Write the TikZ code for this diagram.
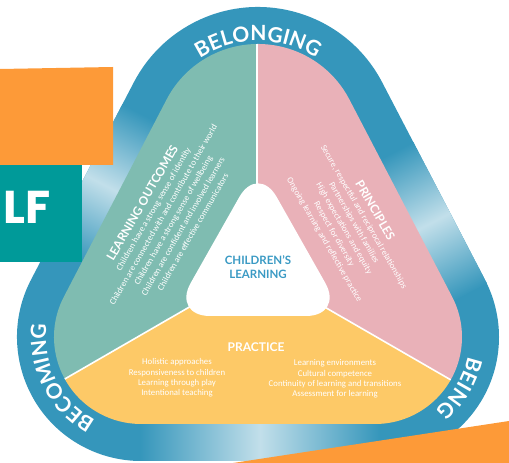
\documentclass[tikz,border=0pt]{standalone}
\usepackage{fontspec}
\setmainfont{Carlito}
\newfontfamily\headfont{Lato}
\newfontfamily\logofont{Poppins}
\usetikzlibrary{calc,decorations.text}
\definecolor{bandblue}{HTML}{3596BB}
\definecolor{bandlight}{HTML}{C2DFEA}
\definecolor{outcometeal}{HTML}{7FBCB1}
\definecolor{principlepink}{HTML}{E9B1B8}
\definecolor{practiceyellow}{HTML}{FDC967}
\definecolor{eylforange}{HTML}{FD9A38}
\definecolor{eylfteal}{HTML}{009A99}
\definecolor{learnblue}{HTML}{3A9AC4}

% outline of the triangle, pulled in by #1
\newcommand{\eylfloop}[1]{($(258,316)+(28:{140pt-#1pt})$)
  arc[start angle=28,end angle=152,radius={140pt-#1pt}]
  -- ($(141,126)+(152:{124pt-#1pt})$)
  arc[start angle=152,end angle=270,radius={124pt-#1pt}]
  -- ($(375,126)+(270:{124pt-#1pt})$)
  arc[start angle=270,end angle=388,radius={124pt-#1pt}] -- cycle}

\tikzset{
  ringword/.style={decorate,decoration={text along path,text align=center,
      text color=white,text={|\headfont\bfseries\fontsize{21pt}{21pt}\selectfont|#1}}},
  glow/.style={left color=bandblue,right color=bandblue,middle color=bandlight},
  heading/.style={font=\headfont\bfseries\fontsize{12pt}{13pt}\selectfont,text=white},
  points/.style={font=\fontsize{8.8pt}{11.4pt}\selectfont,text=white,align=center,inner sep=0pt}
}

\begin{document}
\begin{tikzpicture}[x=1pt,y=1pt]
\useasboundingbox (0,0) rectangle (509,463);
                %Ring
                \fill[bandblue] \eylfloop{0};
                \begin{scope}
                  \clip \eylfloop{0};
                  \shade[glow] (140,0) rectangle (380,60);
                  \begin{scope}[transform canvas={shift={(95,283)},rotate=62.5}]
                    \shade[glow] (-80,-45) rectangle (80,45);
                  \end{scope}
                  \begin{scope}[transform canvas={shift={(440,245)},rotate=-62.5}]
                    \shade[glow] (-80,-45) rectangle (80,45);
                  \end{scope}
                \end{scope}
                %Sectors
                \coordinate (hub) at (257,195);
                \coordinate (hubtop) at ($(hub)+(90:320)$);
                \coordinate (hubleft) at ($(hub)+(210:320)$);
                \coordinate (hubright) at ($(hub)+(330:320)$);
                \begin{scope}
                  \clip \eylfloop{37};
                  \fill[outcometeal] (hub) -- (hubtop) -- (-60,515) -- (-60,35) -- (hubleft) -- cycle;
                  \fill[principlepink] (hub) -- (hubtop) -- (570,515) -- (570,35) -- (hubright) -- cycle;
                  \fill[practiceyellow] (hub) -- (hubleft) -- (-60,-20) -- (570,-20) -- (hubright) -- cycle;
                  \draw[white,line width=1.6pt] (hub) -- (hubtop);
                  \draw[white,line width=1.6pt] (hub) -- (hubleft);
                  \draw[white,line width=1.6pt] (hub) -- (hubright);
                \end{scope}
                %Centre
                \fill[white,rounded corners=38pt] (172,147) -- (258,299) -- (344,147) -- cycle;
                \node[font=\headfont\bfseries\fontsize{11.5pt}{14pt}\selectfont,text=learnblue,align=center] (learning) at (258,196) {CHILDREN’S\\LEARNING};
                %Ring words
                \path[ringword=BELONGING] ($(258,316)+(150:106pt)$) arc[start angle=150,end angle=30,radius=106pt];
                \path[ringword=BECOMING] ($(141,126)+(262:95pt)$) arc[start angle=262,end angle=152,radius=95pt];
                \path[ringword=BEING] ($(375,126)+(384:95pt)$) arc[start angle=384,end angle=274,radius=95pt];
                %Learning outcomes
                \node[points,rotate=60] (outcomes) at (167,246) {{\headfont\bfseries\fontsize{12pt}{13pt}\selectfont LEARNING OUTCOMES}\\
                  Children have a strong sense of identity\\
                  Children are connected with and contribute to their world\\
                  Children have a strong sense of wellbeing\\
                  Children are confident and involved learners\\
                  Children are effective communicators};
                %Principles
                \node[points,rotate=-60] (principles) at (350,238) {{\headfont\bfseries\fontsize{12pt}{13pt}\selectfont PRINCIPLES}\\
                  Secure, respectful and reciprocal relationships\\
                  Partnerships with families\\
                  High expectations and equity\\
                  Respect for diversity\\
                  Ongoing learning and reflective practice};
                %Practice
                \node[heading] (practice) at (256,116) {PRACTICE};
                \node[points,font=\fontsize{8.8pt}{10.2pt}\selectfont] (practiceleft) at (177,85) {Holistic approaches\\
                  Responsiveness to children\\
                  Learning through play\\
                  Intentional teaching};
                \node[points,font=\fontsize{8.8pt}{10.2pt}\selectfont] (practiceright) at (335,84) {Learning environments\\
                  Cultural competence\\
                  Continuity of learning and transitions\\
                  Assessment for learning};
                %Page pieces
                \fill[eylforange] (0,394) -- (113,396) -- (113,298) -- (0,298) -- cycle;
                \fill[eylfteal] (0,298) rectangle (82,201);
                \node[font=\logofont\bfseries\fontsize{46pt}{46pt}\selectfont,text=white,anchor=east,inner sep=0pt] (eylf) at (51,256) {LF};
                \fill[eylforange] (233,0) -- (509,42) -- (509,0) -- cycle;
\end{tikzpicture}
\end{document}
